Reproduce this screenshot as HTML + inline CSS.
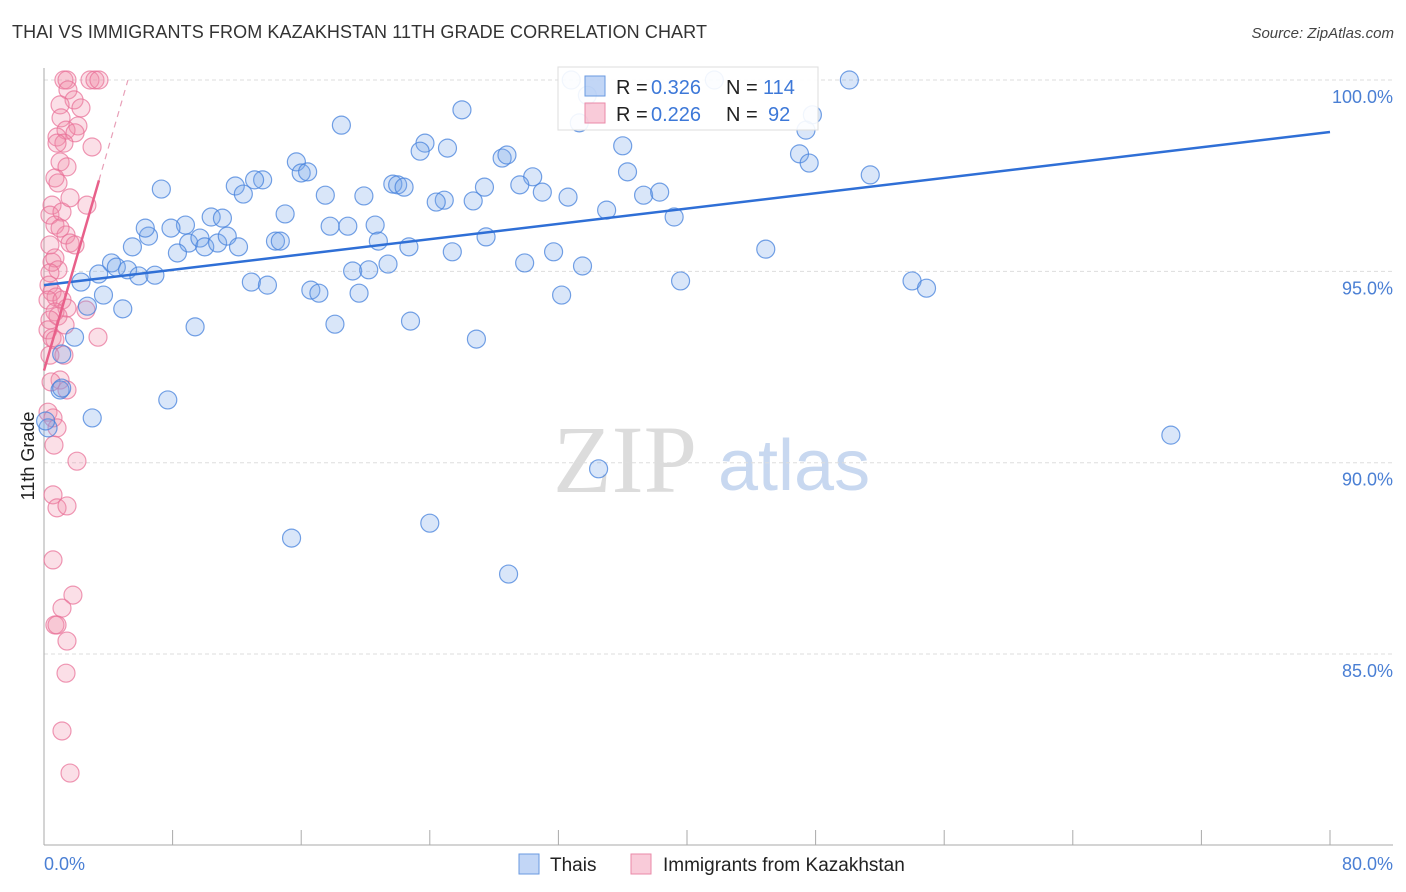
<!DOCTYPE html>
<html><head><meta charset="utf-8">
<style>
body{margin:0;background:#fff;font-family:"Liberation Sans",sans-serif;}
#wrap{position:relative;width:1406px;height:892px;overflow:hidden;}
.title{position:absolute;left:12px;top:22px;font-size:18px;color:#333;letter-spacing:0.1px;}
.source{position:absolute;right:12px;top:25px;font-size:15px;color:#444;font-style:italic;}
</style></head>
<body>
<div id="wrap">
<div class="title">THAI VS IMMIGRANTS FROM KAZAKHSTAN 11TH GRADE CORRELATION CHART</div>
<div class="source">Source: ZipAtlas.com</div>
<svg id="chart" width="1406" height="892" style="position:absolute;left:0;top:0"></svg>
</div>
<script>
const yTicks=[100,95,90,85];
const yTickLabels=["100.0%","95.0%","90.0%","85.0%"];
const xTickLabels=["0.0%","80.0%"];
const thaiX=[32.8,41.7,50.1,33.8,47.8,47.4,33.3,26.0,18.5,23.7,23.4,25.1,28.5,28.8,36.0,30.4,29.6,31.0,32.6,27.4,24.9,24.4,26.7,21.7,22.0,22.4,19.9,17.5,15.7,16.0,16.4,13.6,13.1,11.9,12.4,7.3,15.0,17.8,18.9,20.6,20.8,22.7,10.4,11.1,8.8,7.9,6.5,6.3,5.5,9.0,9.7,10.0,10.8,11.4,12.1,14.4,14.7,8.3,4.2,4.5,5.2,5.9,6.9,3.4,2.3,3.7,4.9,2.7,9.4,12.9,13.9,16.6,17.1,19.2,20.2,21.4,19.6,18.1,22.8,25.4,27.5,26.9,29.9,31.7,33.5,32.2,35.0,37.3,38.3,36.3,39.2,39.6,44.9,47.0,47.6,51.4,54.0,54.9,70.1,34.5,24.0,15.4,28.9,7.7,3.0,1.9,1.1,1.0,0.25,1.1,0.1];
const thaiY=[100,100,100,99.6,99.09,98.69,98.88,99.22,98.82,98.35,98.14,98.22,97.96,98.04,98.28,97.47,97.26,97.07,96.94,97.2,96.86,96.81,96.84,97.28,97.26,97.2,96.97,96.99,97.86,97.57,97.6,97.39,97.39,97.23,97.02,97.15,96.5,96.18,96.18,96.21,95.79,95.64,96.42,96.39,96.21,96.13,95.92,96.13,95.64,95.74,95.87,95.64,95.74,95.92,95.64,95.79,95.79,95.48,95.22,95.11,95.04,94.88,94.9,94.93,94.72,94.38,94.02,94.09,93.55,94.72,94.64,94.51,94.43,95.01,95.04,95.19,94.43,93.62,93.7,95.51,95.9,93.23,95.22,95.51,95.14,94.38,96.6,96.99,97.07,97.6,96.42,94.75,95.58,98.07,97.83,97.52,94.75,94.56,90.72,89.84,88.42,88.03,87.09,91.64,91.17,93.28,92.84,91.9,90.91,91.95,91.09];
const kazX=[1.24,1.43,2.86,3.17,3.42,1.49,1.87,1.0,2.3,1.06,2.11,1.37,0.81,1.93,1.24,2.99,0.81,1.0,1.43,0.68,0.87,2.67,0.5,0.37,1.12,1.62,0.68,1.37,1.0,1.62,1.93,0.37,0.5,0.68,0.87,0.37,0.31,0.5,0.75,0.25,1.12,1.43,2.61,0.68,0.87,0.37,1.31,0.25,0.5,0.68,3.36,0.37,1.24,1.0,1.43,0.44,0.25,0.56,0.81,0.62,2.05,0.56,0.81,1.43,0.56,1.8,1.12,0.68,0.81,1.43,1.37,1.12,1.62];
const kazY=[100,100,100,100,100,99.74,99.48,99.35,99.27,99.01,98.8,98.69,98.51,98.62,98.35,98.25,98.35,97.86,97.73,97.44,97.31,96.73,96.73,96.47,96.55,96.92,96.21,95.95,96.13,95.74,95.69,95.69,95.24,95.35,95.04,94.96,94.64,94.46,94.33,94.25,94.25,94.04,93.99,93.94,93.83,93.73,93.6,93.47,93.26,93.21,93.28,92.81,92.81,92.16,91.9,92.11,91.32,91.17,90.91,90.46,90.04,89.16,88.82,88.87,87.46,86.54,86.2,85.76,85.76,85.34,84.5,82.99,81.89];

const X0=44,X1=1330,Y100=80,PX5=191.35;
const sx=v=>X0+(v/80)*(X1-X0);
const sy=v=>Y100+(100-v)/5*PX5;
const svg=document.getElementById('chart');
const NS='http://www.w3.org/2000/svg';
function mk(tag,attrs,parent){const e=document.createElementNS(NS,tag);for(const k in attrs)e.setAttribute(k,attrs[k]);(parent||svg).appendChild(e);return e;}

// watermark
let wm=mk('text',{x:553,y:492,'font-size':96,'font-family':'Liberation Serif, serif',fill:'#dcdcdc'});
wm.textContent='ZIP';


let wm2=mk('text',{x:718,y:490,'font-size':72,'font-family':'Liberation Sans, sans-serif',fill:'#c8d8f0'});
wm2.textContent='atlas';



// gridlines & y labels
yTicks.forEach((t,i)=>{
 const g=mk('line',{x1:X0,x2:1393,y1:sy(t),y2:sy(t),stroke:'#ddd','stroke-dasharray':'4,3'});
 
 
 const l=mk('text',{x:1393,y:sy(t)+23,'text-anchor':'end','font-size':18,fill:'#4a7fd4'});
 l.textContent=yTickLabels[i];
 
 
});
// axes
let ax=mk('line',{x1:X0,x2:X0,y1:68,y2:845,stroke:'#aaa'});


let bx=mk('line',{x1:X0,x2:1393,y1:845,y2:845,stroke:'#aaa'});


for(let i=0;i<=10;i++){
 const tk=mk('line',{x1:sx(i*8),x2:sx(i*8),y1:830,y2:845,stroke:'#aaa'});
 
 
}
let xl0=mk('text',{x:44,y:870,'font-size':18,fill:'#4a7fd4'});xl0.textContent=xTickLabels[0];


let xl1=mk('text',{x:1393,y:870,'font-size':18,fill:'#4a7fd4','text-anchor':'end'});xl1.textContent=xTickLabels[1];


let yt=mk('text',{x:34,y:456,'font-size':18,fill:'#222','text-anchor':'middle',transform:'rotate(-90 34 456)'});yt.textContent='11th Grade';



// points
function pts(xs,ys,fill,stroke,name){
 xs.forEach((x,i)=>{
  const c=mk('circle',{cx:sx(x),cy:sy(ys[i]),r:9,fill:fill,stroke:stroke,'stroke-width':1.2});
  
  
 });
}
pts(kazX,kazY,'rgba(242,140,170,0.28)','rgba(232,110,150,0.7)','kazakhstan-point');
pts(thaiX,thaiY,'rgba(120,165,235,0.28)','rgba(70,130,220,0.75)','thai-point');

function fit(xs,ys){const n=xs.length;let mx=0,my=0;for(let i=0;i<n;i++){mx+=xs[i];my+=ys[i];}mx/=n;my/=n;let sxy=0,sxx=0;for(let i=0;i<n;i++){sxy+=(xs[i]-mx)*(ys[i]-my);sxx+=(xs[i]-mx)**2;}const b=sxy/sxx;return [my-b*mx,b];}
const [ta,tb]=fit(thaiX,thaiY);
let tl=mk('line',{x1:sx(0),y1:sy(ta),x2:sx(80),y2:sy(ta+tb*80),stroke:'#2f6fd6','stroke-width':2.5});


const [ka,kb]=fit(kazX,kazY);
const kmax=Math.max(...kazX);
let kl=mk('line',{x1:sx(0),y1:sy(ka),x2:sx(kmax),y2:sy(ka+kb*kmax),stroke:'#e8608a','stroke-width':2.5});


let xe=Math.min(80,(100-ka)/kb);
let kd=mk('line',{x1:sx(kmax),y1:sy(ka+kb*kmax),x2:sx(xe),y2:sy(ka+kb*xe),stroke:'#e8a0b8','stroke-width':1.2,'stroke-dasharray':'6,5'});



// legend box
const lg=mk('g',{});


mk('rect',{x:558,y:67,width:260,height:63,fill:'rgba(255,255,255,0.9)',stroke:'#ddd'},lg);
mk('rect',{x:585,y:76,width:20,height:20,fill:'rgba(120,165,235,0.45)',stroke:'#6a9ae0'},lg);
mk('rect',{x:585,y:103,width:20,height:20,fill:'rgba(242,140,170,0.45)',stroke:'#ea8aa8'},lg);
function lt(x,y,t,c){const e=mk('text',{x:x,y:y,'font-size':20,fill:c},lg);e.textContent=t;return e;}
lt(616,94,'R = ','#222');lt(651,94,'0.326','#3d78d8');lt(726,94,'N = ','#222');lt(763,94,'114','#3d78d8');
lt(616,121,'R = ','#222');lt(651,121,'0.226','#3d78d8');lt(726,121,'N = ','#222');lt(768,121,'92','#3d78d8');

// bottom legend
const bl=mk('g',{});


let s1=mk('rect',{x:519,y:854,width:20,height:20,fill:'rgba(120,165,235,0.45)',stroke:'#6a9ae0'},bl);


let t1=mk('text',{x:550,y:871,'font-size':19,fill:'#222'},bl);t1.textContent='Thais';


let s2=mk('rect',{x:631,y:854,width:20,height:20,fill:'rgba(242,140,170,0.45)',stroke:'#ea8aa8'},bl);


let t2=mk('text',{x:663,y:871,'font-size':19,fill:'#222'},bl);t2.textContent='Immigrants from Kazakhstan';


</script>
</body></html>
